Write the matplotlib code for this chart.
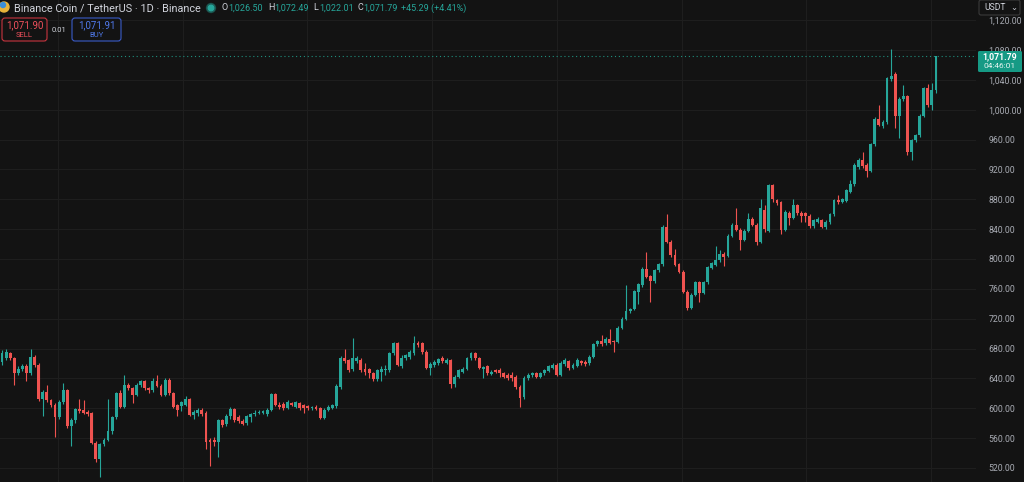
import numpy as np
import matplotlib
matplotlib.use("Agg")
import matplotlib.pyplot as plt
from matplotlib.patches import FancyBboxPatch, Rectangle, Circle

# daily BNB/USDT candles
opens = [662, 668, 674, 667, 647, 652, 657, 647, 669, 658,
         613, 622, 611, 605, 588, 609, 624, 576, 584, 599,
         597, 595, 593, 554, 532, 552, 558, 569, 588, 620,
         602, 631, 627, 618, 631, 636, 627, 624, 637, 630,
         618, 638, 620, 604, 603, 605, 612, 591, 593, 598,
         594, 557, 557, 555, 584, 579, 589, 599, 588, 583,
         580, 588, 592, 594, 594, 592, 598, 619, 605, 606,
         601, 607, 602, 607, 604, 603, 600, 602, 600, 587,
         598, 601, 603, 629, 667, 664, 653, 663, 665, 653,
         652, 647, 639, 649, 651, 651, 674, 687, 656, 667,
         669, 674, 687, 687, 676, 654, 658, 660, 667, 661,
         664, 632, 642, 649, 653, 667, 674, 667, 652, 656,
         646, 651, 651, 647, 645, 644, 642, 629, 615, 640,
         644, 647, 642, 647, 650, 654, 658, 645, 659, 663,
         654, 657, 663, 662, 660, 669, 686, 690, 687, 693,
         690, 689, 708, 720, 730, 733, 756, 765, 787, 777,
         770, 785, 793, 843, 823, 805, 793, 783, 756, 735,
         752, 769, 755, 769, 788, 792, 798, 807, 804, 831,
         846, 839, 826, 838, 854, 846, 823, 866, 838, 899,
         879, 876, 839, 862, 855, 872, 862, 861, 858, 844,
         850, 852, 843, 849, 860, 879, 877, 878, 890, 900,
         923, 933, 926, 918, 954, 988, 978, 983, 1041, 1048,
         991, 1014, 1018, 944, 959, 966, 992, 1029, 1006, 1026.50]
highs = [678, 679, 676, 669, 656, 659, 659, 679, 671, 660,
         625, 631, 613, 607, 611, 634, 626, 587, 601, 613,
         611, 597, 595, 556, 554, 560, 613, 590, 622, 624,
         645, 634, 629, 634, 638, 638, 629, 640, 645, 632,
         641, 640, 622, 606, 610, 617, 614, 598, 600, 601,
         596, 560, 562, 586, 586, 592, 602, 601, 591, 586,
         591, 594, 597, 598, 598, 600, 621, 621, 608, 609,
         611, 609, 610, 609, 606, 605, 603, 604, 602, 600,
         604, 606, 632, 670, 679, 666, 694, 670, 667, 660,
         654, 649, 653, 656, 658, 676, 689, 689, 671, 673,
         678, 697, 690, 689, 678, 662, 664, 668, 670, 667,
         666, 645, 653, 655, 669, 676, 676, 669, 657, 658,
         651, 653, 654, 649, 647, 648, 645, 631, 643, 647,
         649, 649, 649, 653, 658, 660, 660, 663, 667, 665,
         660, 667, 665, 664, 671, 688, 692, 698, 695, 706,
         692, 710, 722, 765, 735, 759, 768, 789, 810, 779,
         787, 795, 845, 860, 825, 814, 795, 785, 758, 754,
         771, 771, 771, 791, 796, 818, 812, 809, 833, 848,
         868, 841, 840, 861, 856, 848, 880, 872, 901, 901,
         881, 878, 865, 864, 880, 874, 864, 863, 860, 854,
         856, 854, 852, 862, 881, 886, 882, 894, 906, 928,
         935, 944, 928, 956, 990, 1006, 986, 1044, 1081, 1050,
         1017, 1033, 1020, 961, 968, 994, 1031, 1034, 1036, 1072.49]
lows = [658, 664, 665, 631, 644, 650, 636, 645, 655, 610,
        589, 608, 602, 562, 585, 606, 574, 549, 580, 594,
        592, 590, 552, 528, 508, 549, 556, 566, 585, 600,
        600, 624, 607, 616, 629, 625, 621, 622, 628, 616,
        616, 618, 600, 589, 596, 603, 589, 585, 590, 590,
        546, 522, 550, 535, 575, 576, 586, 582, 580, 577,
        577, 582, 590, 592, 592, 590, 596, 603, 599, 598,
        599, 603, 600, 598, 594, 597, 598, 597, 585, 585,
        596, 599, 601, 626, 660, 649, 650, 661, 648, 644,
        641, 636, 637, 636, 645, 649, 672, 656, 654, 664,
        666, 671, 682, 673, 652, 645, 655, 658, 660, 659,
        627, 628, 640, 647, 651, 665, 664, 652, 640, 645,
        644, 647, 642, 640, 638, 637, 626, 602, 613, 638,
        642, 640, 640, 645, 648, 652, 643, 643, 657, 651,
        652, 655, 658, 657, 658, 667, 684, 684, 685, 686,
        676, 687, 706, 718, 728, 731, 740, 763, 774, 743,
        768, 783, 791, 821, 803, 790, 781, 754, 732, 733,
        750, 743, 753, 767, 786, 790, 796, 790, 802, 829,
        837, 812, 824, 836, 844, 819, 821, 836, 836, 877,
        872, 834, 837, 845, 853, 859, 850, 850, 842, 842,
        848, 841, 840, 847, 858, 874, 875, 876, 888, 898,
        921, 922, 910, 916, 952, 978, 976, 981, 1039, 976,
        962, 1012, 939, 932, 957, 964, 990, 1004, 1000, 1022.01]
closes = [674, 675, 668, 647, 653, 656, 647, 669, 658, 613,
          622, 611, 605, 588, 609, 624, 576, 584, 599, 596,
          594, 592, 554, 532, 552, 558, 569, 588, 620, 602,
          631, 627, 618, 631, 636, 627, 624, 637, 630, 618,
          638, 620, 602, 598, 608, 612, 591, 595, 598, 592,
          555, 555, 555, 584, 578, 589, 599, 584, 583, 579,
          589, 592, 594, 595, 596, 598, 619, 605, 602, 600,
          608, 605, 608, 600, 600, 600, 602, 599, 587, 598,
          602, 604, 630, 667, 663, 651, 667, 667, 651, 649,
          647, 639, 651, 653, 653, 674, 687, 658, 668, 671,
          676, 687, 685, 676, 654, 659, 662, 666, 663, 665,
          633, 642, 651, 653, 667, 674, 667, 654, 655, 647,
          649, 649, 647, 642, 641, 640, 628, 614, 641, 645,
          647, 642, 647, 651, 656, 658, 645, 660, 665, 654,
          658, 665, 660, 659, 669, 686, 690, 686, 693, 688,
          689, 708, 720, 730, 733, 757, 766, 787, 776, 770,
          785, 793, 843, 823, 805, 792, 783, 756, 735, 752,
          769, 754, 769, 789, 794, 799, 807, 803, 831, 846,
          839, 825, 838, 854, 846, 823, 868, 840, 899, 880,
          875, 839, 863, 855, 872, 861, 858, 857, 844, 852,
          854, 843, 850, 860, 879, 876, 880, 892, 901, 926,
          933, 924, 918, 954, 988, 980, 984, 1042, 1045, 991,
          1015, 1018, 944, 959, 966, 992, 1029, 1006, 1026, 1071.79]

price_ticks = [520, 560, 600, 640, 680, 720, 760, 800, 840, 880,
               920, 960, 1000, 1040, 1080, 1120]
last_price = 1071.79

BG = "#131313"
UP = "#26a69a"
DOWN = "#ef5350"
GRID = "#1e1e1e"
TXT = "#d1d4dc"
W, H = 1024, 482

o = np.array(opens, float)
h = np.array(highs, float)
l = np.array(lows, float)
c = np.array(closes, float)
x = np.arange(len(c))
up = c >= o
cols = np.where(up, UP, DOWN)

fig = plt.figure(figsize=(W / 100, H / 100), dpi=100, facecolor=BG)
ax = fig.add_axes([0, 0, 976 / W, 1])
ax.set_facecolor(BG)

step = 934 / (len(c) - 1)
ax.set_xlim(-2 / step, 974 / step)
ax.set_ylim(501.2, 1147)

ax.vlines(x, l, h, colors=cols, linewidth=0.8, zorder=2)
body = np.maximum(np.abs(c - o), 1.3)
ax.bar(x, body, bottom=np.minimum(o, c), width=0.7, color=cols, linewidth=0, zorder=3)

ax.axhline(last_price, color="#1f8f7e", linestyle=(0, (1, 2.5)), linewidth=0.8, zorder=1)

ax.set_yticks(price_ticks)
ax.set_yticklabels([f"{v:,.2f}" for v in price_ticks], family="Roboto")
ax.yaxis.tick_right()
ax.tick_params(axis="y", length=0, pad=9, labelsize=6.3, labelcolor="#a8abb3")
ax.set_xticks(np.array([58, 183, 307, 432, 557, 682, 806, 931]) / step - 2 / step)
ax.tick_params(axis="x", length=0, labelbottom=False)
ax.grid(True, color=GRID, linewidth=0.8)
ax.set_axisbelow(True)
for s in ax.spines.values():
    s.set_visible(False)

# overlay in pixel coords for the TradingView chrome
ov = fig.add_axes([0, 0, 1, 1], zorder=5)
ov.set_xlim(0, W)
ov.set_ylim(H, 0)
ov.axis("off")
ov.patch.set_alpha(0)

ff = "Roboto"
ov.add_patch(Circle((4, 7), 5, color="#e8b43a", zorder=5))
ov.add_patch(Circle((3, 5), 2.5, color="#3a8fd9", zorder=6))
ov.text(14, 8, "Binance Coin / TetherUS · 1D · Binance", color=TXT, fontsize=7.8,
        family=ff, va="center", ha="left")
ov.add_patch(Circle((211, 8), 4.5, color=UP, alpha=0.35))
ov.add_patch(Circle((211, 8), 2.8, color=UP))

ohlc = [("O", "1,026.50", 222), ("H", "1,072.49", 268), ("L", "1,022.01", 313), ("C", "1,071.79", 357)]
for lab, val, px in ohlc:
    ov.text(px, 8, lab, color=TXT, fontsize=6.5, family=ff, va="center", ha="left")
    ov.text(px + 6.5, 8, val, color=UP, fontsize=6.5, family=ff, va="center", ha="left")
ov.text(401, 8, "+45.29 (+4.41%)", color=UP, fontsize=6.5, family=ff, va="center", ha="left")

ov.add_patch(FancyBboxPatch((2, 18), 45, 23, boxstyle="round,pad=0,rounding_size=3",
                            fc=BG, ec="#c8353f", lw=0.8))
ov.text(24.5, 25, "1,071.90", color="#f0505c", fontsize=7, family=ff, ha="center", va="center")
ov.text(24.5, 35, "SELL", color="#f0505c", fontsize=5.5, family=ff, ha="center", va="center")
ov.text(59, 29.5, "0.01", color=TXT, fontsize=5.5, family=ff, ha="center", va="center")
ov.add_patch(FancyBboxPatch((72, 18), 49, 23, boxstyle="round,pad=0,rounding_size=3",
                            fc=BG, ec="#3a5bc8", lw=0.8))
ov.text(96.5, 25, "1,071.91", color="#4f78e8", fontsize=7, family=ff, ha="center", va="center")
ov.text(96.5, 35, "BUY", color="#4f78e8", fontsize=5.5, family=ff, ha="center", va="center")

ov.add_patch(Rectangle((977, 0), 46, 16, fc=BG, ec="none"))
ov.add_patch(FancyBboxPatch((979, 0), 41, 15, boxstyle="round,pad=0,rounding_size=2",
                            fc=BG, ec="#3a3a3a", lw=0.8))
ov.text(984, 8, "USDT", color=TXT, fontsize=6.2, family=ff, ha="left", va="center")
ov.text(1014, 7, "⌄", color=TXT, fontsize=6, family="DejaVu Sans", ha="center", va="center")

ov.add_patch(FancyBboxPatch((978, 51), 44, 21, boxstyle="round,pad=0,rounding_size=1.5",
                            fc="#169a85", ec="none"))
ov.text(1000, 57, "1,071.79", color="white", fontsize=6.3, family=ff, ha="center",
        va="center", weight="bold")
ov.text(1000, 66.5, "04:46:01", color="#e6f5f2", fontsize=6.0, family=ff, ha="center", va="center")

fig.savefig("out.png", dpi=100, facecolor=BG)
